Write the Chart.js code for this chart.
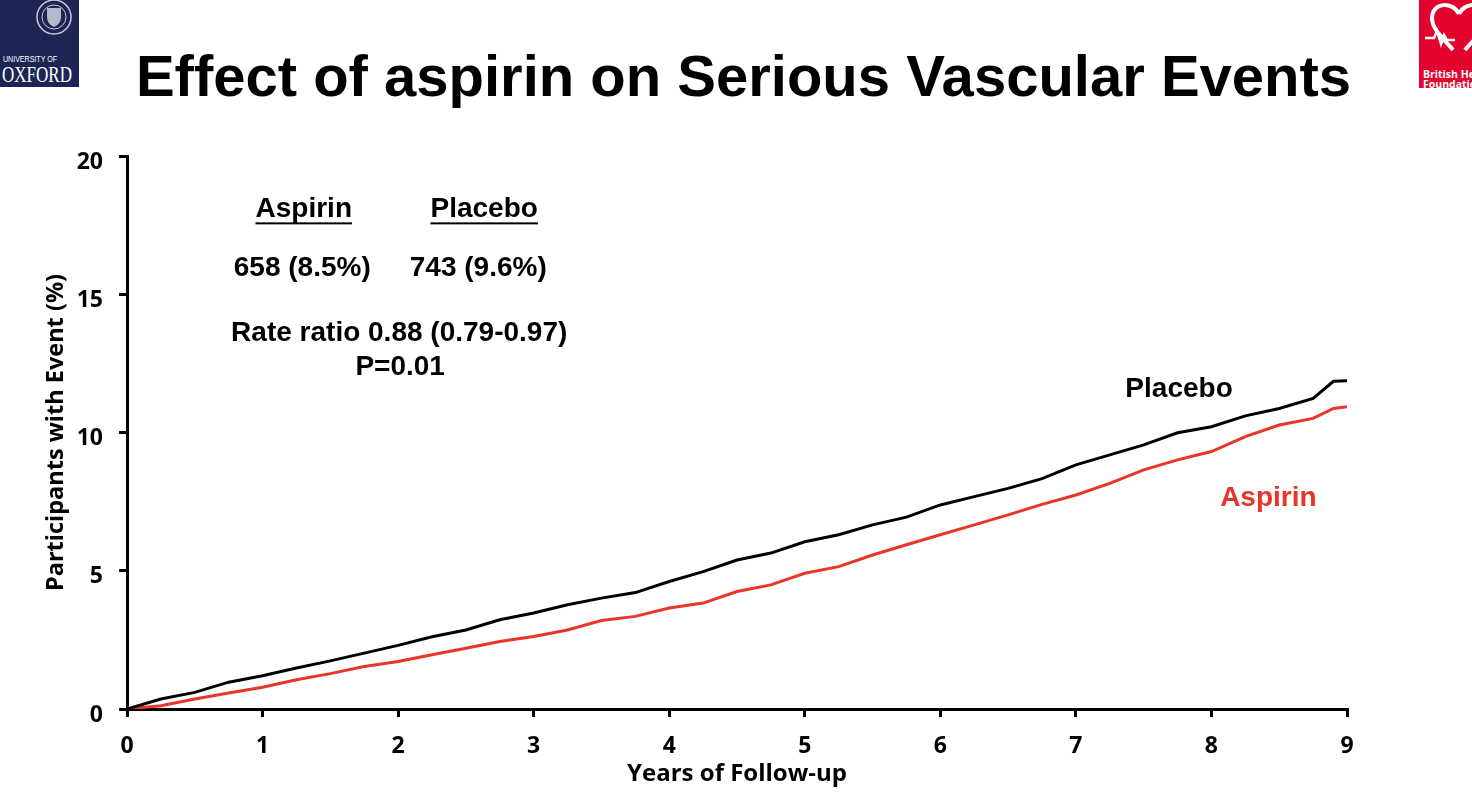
<!DOCTYPE html>
<html>
<head>
<meta charset="utf-8">
<script src="https://cdn.jsdelivr.net/npm/chart.js"></script>
<style>
  html, body { margin: 0; padding: 0; background: #fff; }
  #wrap { position: relative; width: 1472px; height: 807px; overflow: hidden; }
  #c { position: absolute; left: 0; top: 0; }
  #title { position: absolute; left: 0; top: 47px; width: 1487px; text-align: center;
           font: bold 58px "Liberation Sans", Arial, sans-serif; line-height: 58px; color: #000; }
  .logo { position: absolute; top: 0; }
</style>
</head>
<body>
<div id="wrap">
  <canvas id="c" width="1472" height="807"></canvas>
  <div id="title">Effect of aspirin on Serious Vascular Events</div>

  <svg class="logo" style="left:0" width="79" height="87">
    <rect width="79" height="87" fill="#1c2554"/>
    <circle cx="54" cy="17" r="17" fill="none" stroke="#c9ccd8" stroke-width="1.5"/>
    <circle cx="54" cy="17" r="12" fill="none" stroke="#c9ccd8" stroke-width="1"/>
    <path d="M47 8 h14 v9 q0 7 -7 10 q-7 -3 -7 -10z" fill="#b5b9cc"/>
    <text x="3" y="62" font-family="Liberation Sans" font-size="9" fill="#fff" textLength="54" lengthAdjust="spacingAndGlyphs">UNIVERSITY OF</text>
    <text x="2" y="82" font-family="Liberation Serif" font-size="23" fill="#fff" textLength="70" lengthAdjust="spacingAndGlyphs">OXFORD</text>
  </svg>

  <svg class="logo" style="left:1419px" width="53" height="88">
    <rect width="53" height="88" fill="#e4032e"/>
    <path d="M40 14 C34 1 13 2 13 18 C13 30 26 40 34 50" fill="none" stroke="#fff" stroke-width="4"/>
    <path d="M40 14 C46 1 67 2 67 18 C67 30 54 40 46 50" fill="none" stroke="#fff" stroke-width="4"/>
    <path d="M6 38 h9 l3 -7 l4 13 l3 -9 l3 5 h8" fill="none" stroke="#fff" stroke-width="2.5"/>
    <text x="4" y="78" font-family="Open Sans" font-weight="bold" font-size="10.5" fill="#fff">British Heart</text>
    <text x="4" y="88" font-family="Open Sans" font-weight="bold" font-size="10.5" fill="#fff">Foundation</text>
  </svg>
</div>

<script>
// follow-up time (years)
const years = [0, 0.25, 0.5, 0.75, 1, 1.25, 1.5, 1.75, 2, 2.25, 2.5, 2.75, 3, 3.25, 3.5, 3.75,
               4, 4.25, 4.5, 4.75, 5, 5.25, 5.5, 5.75, 6, 6.25, 6.5, 6.75, 7, 7.25, 7.5, 7.75,
               8, 8.25, 8.5, 8.75, 8.9, 9];

// cumulative % with event
const placebo = [0, 0.36, 0.60, 0.97, 1.20, 1.48, 1.74, 2.02, 2.30, 2.61, 2.86, 3.23, 3.47, 3.77, 4.01, 4.21,
                 4.61, 4.97, 5.39, 5.64, 6.05, 6.30, 6.66, 6.94, 7.38, 7.68, 7.98, 8.33, 8.83, 9.19, 9.55, 9.99,
                 10.21, 10.60, 10.87, 11.23, 11.85, 11.87];
const aspirin = [0, 0.12, 0.36, 0.58, 0.79, 1.06, 1.28, 1.54, 1.72, 1.96, 2.20, 2.44, 2.62, 2.86, 3.20, 3.35,
                 3.65, 3.83, 4.25, 4.49, 4.91, 5.15, 5.57, 5.94, 6.30, 6.66, 7.02, 7.40, 7.74, 8.16, 8.65, 9.01,
                 9.31, 9.85, 10.27, 10.51, 10.87, 10.93];

const xTicks = [0, 1, 2, 3, 4, 5, 6, 7, 8, 9];
const yTicks = [0, 5, 10, 15, 20];

const red = '#e8352a';
const txtFont = '"Liberation Sans", Arial, sans-serif';
const axFont = '"Open Sans", sans-serif';

// text on the plot, placed in data units
const notes = [
  { text: 'Aspirin', x: 1.304, y: 18.07, underline: true, color: '#000' },
  { text: 'Placebo', x: 2.635, y: 18.07, underline: true, color: '#000' },
  { text: '658 (8.5%)', x: 1.293, y: 15.94, color: '#000' },
  { text: '743 (9.6%)', x: 2.591, y: 15.94, color: '#000' },
  { text: 'Rate ratio 0.88 (0.79-0.97)', x: 2.008, y: 13.6, color: '#000' },
  { text: 'P=0.01', x: 2.015, y: 12.37, color: '#000' },
  { text: 'Placebo', x: 7.761, y: 11.57, color: '#000' },
  { text: 'Aspirin', x: 8.42, y: 7.63, color: red }
];

const notesPlugin = {
  id: 'notes',
  afterDraw(chart) {
    const { ctx, scales } = chart;
    ctx.save();
    ctx.font = 'bold 28px ' + txtFont;
    ctx.textAlign = 'center';
    ctx.textBaseline = 'middle';
    notes.forEach(n => {
      const px = scales.x.getPixelForValue(n.x);
      const py = scales.y.getPixelForValue(n.y);
      ctx.fillStyle = n.color;
      ctx.fillText(n.text, px, py);
      if (n.underline) {
        const w = ctx.measureText(n.text).width;
        ctx.fillRect(px - w / 2, py + 13, w, 2);
      }
    });
    ctx.restore();
  }
};

const axisStyle = {
  grid: { display: true, drawOnChartArea: false, drawTicks: true, tickLength: 8, color: '#000', lineWidth: 3 },
  border: { display: true, color: '#000', width: 3 }
};

new Chart(document.getElementById('c'), {
  type: 'line',
  data: {
    datasets: [
      {
        label: 'Placebo',
        data: years.map((x, i) => ({ x: x, y: placebo[i] })),
        borderColor: '#000',
        borderWidth: 3,
        pointRadius: 0,
        tension: 0
      },
      {
        label: 'Aspirin',
        data: years.map((x, i) => ({ x: x, y: aspirin[i] })),
        borderColor: red,
        borderWidth: 3,
        pointRadius: 0,
        tension: 0
      }
    ]
  },
  options: {
    responsive: false,
    animation: false,
    devicePixelRatio: 1,
    layout: { padding: { left: 0, top: 156, right: 125, bottom: 10 } },
    plugins: { legend: { display: false }, tooltip: { enabled: false } },
    scales: {
      x: {
        type: 'linear', min: 0, max: 9,
        afterBuildTicks: s => { s.ticks = xTicks.map(v => ({ value: v })); },
        afterFit: s => { s.height = 88; },
        ticks: { color: '#000', padding: 16, maxRotation: 0, font: { family: axFont, weight: 'bold', size: 23 } },
        title: { display: true, text: 'Years of Follow-up', color: '#000',
                 font: { family: axFont, weight: 'bold', size: 24 }, padding: { top: 0, bottom: 8 } },
        ...axisStyle
      },
      y: {
        min: 0, max: 20,
        afterBuildTicks: s => { s.ticks = yTicks.map(v => ({ value: v })); },
        afterFit: s => { s.width = 127; },
        ticks: { color: '#000', padding: 16, labelOffset: 6, font: { family: axFont, weight: 'bold', size: 23 } },
        title: { display: true, text: 'Participants with Event (%)', color: '#000',
                 font: { family: axFont, weight: 'bold', size: 23.5 }, padding: { top: 42, bottom: 0 } },
        ...axisStyle
      }
    }
  },
  plugins: [notesPlugin]
});
</script>
</body>
</html>
